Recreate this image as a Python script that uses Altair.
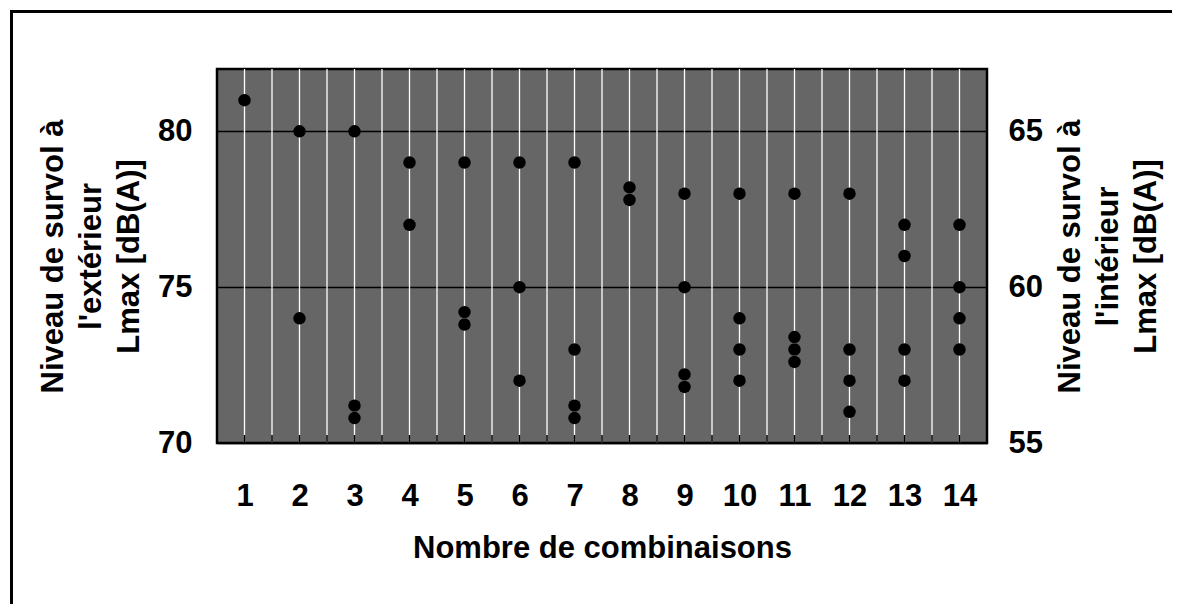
import altair as alt
import pandas as pd

# ---- data ----
combos = [1,
          2, 2,
          3, 3, 3,
          4, 4,
          5, 5, 5,
          6, 6, 6,
          7, 7, 7, 7,
          8, 8,
          9, 9, 9, 9,
          10, 10, 10, 10,
          11, 11, 11, 11,
          12, 12, 12, 12,
          13, 13, 13, 13,
          14, 14, 14, 14]
lmax_ext = [81,
            80, 74,
            80, 71.2, 70.8,
            79, 77,
            79, 74.2, 73.8,
            79, 75, 72,
            79, 73, 71.2, 70.8,
            78.2, 77.8,
            78, 75, 72.2, 71.8,
            78, 74, 73, 72,
            78, 73.4, 73.0, 72.6,
            78, 73, 72, 71,
            77, 76, 73, 72,
            77, 75, 74, 73]
x_tick_values = [1, 1.5, 2, 2.5, 3, 3.5, 4, 4.5, 5, 5.5, 6, 6.5, 7, 7.5,
                 8, 8.5, 9, 9.5, 10, 10.5, 11, 11.5, 12, 12.5, 13, 13.5, 14]
left_ticks = [70, 75, 80]
right_ticks = [55, 60, 65]
left_domain = [70, 82]
right_domain = [55, 67]
x_domain = [0.5, 14.5]

x_title = "Nombre de combinaisons"
left_title = ["Niveau de survol à", "l'extérieur", "Lmax [dB(A)]"]
right_title = ["Niveau de survol à", "l'intérieur", "Lmax [dB(A)]"]

W, H = 770, 374
FONT = "Liberation Sans"
FS = 31

points_df = pd.DataFrame({"combo": combos, "lmax": lmax_ext})
ticks_df = pd.DataFrame({"combo": x_tick_values})
right_df = pd.DataFrame({"v": right_ticks})

x_axis = alt.Axis(
    values=x_tick_values,
    format="d",
    labelExpr="datum.value % 1 == 0 ? datum.label : ''",
    labelOverlap=False,
    grid=False,
    ticks=False, domain=False,
    labelFont=FONT, labelFontSize=FS, labelFontWeight="bold", labelColor="black",
    labelPadding=38, labelFlush=False,
    title=x_title, titleFont=FONT, titleFontSize=FS, titleFontWeight="bold",
    titleColor="black", titlePadding=22,
)
x_enc = alt.X("combo:Q", scale=alt.Scale(domain=x_domain, nice=False, zero=False), axis=x_axis)

# white vertical gridlines at every half step
white_grid = alt.Chart(ticks_df).mark_rule(color="white", strokeWidth=1.3).encode(
    x=x_enc,
)

points = alt.Chart(points_df).mark_circle(color="black", opacity=1, size=155).encode(
    x=x_enc,
    y=alt.Y("lmax:Q", scale=alt.Scale(domain=left_domain, nice=False, zero=False),
            axis=alt.Axis(values=left_ticks, grid=True, gridColor="black", gridWidth=1.3,
                          gridOpacity=1, ticks=False, domain=False,
                          labelFont=FONT, labelFontSize=FS, labelFontWeight="bold",
                          labelColor="black", labelPadding=25,
                          title=left_title, titleFont=FONT, titleFontSize=FS,
                          titleFontWeight="bold", titleColor="black", titlePadding=12,
                          titleLineHeight=38)),
)

inward_ticks = alt.Chart(ticks_df).mark_rule(color="black", strokeWidth=1.5).encode(
    x=x_enc,
    y=alt.value(H - 8),
    y2=alt.value(H),
)

right_axis = alt.Chart(right_df).mark_point(opacity=0).encode(
    x=alt.value(0),
    y=alt.Y("v:Q", scale=alt.Scale(domain=right_domain, nice=False, zero=False),
            axis=alt.Axis(orient="right", values=right_ticks, grid=False, ticks=False,
                          domain=False, labelFont=FONT, labelFontSize=FS,
                          labelFontWeight="bold", labelColor="black", labelPadding=21,
                          title=right_title, titleFont=FONT, titleFontSize=FS,
                          titleFontWeight="bold", titleColor="black", titleAngle=270,
                          titleBaseline="top", titleAlign="center",
                          titleX=68, titleY=H / 2, titleLineHeight=38)),
)

border_left = alt.Chart(right_df).mark_rule(color="black", strokeWidth=3).encode(
    x=alt.value(-205.5), y=alt.value(-59), y2=alt.value(540))
border_top = alt.Chart(right_df).mark_rule(color="black", strokeWidth=3).encode(
    x=alt.value(-207), x2=alt.value(960), y=alt.value(-57.5))

chart = alt.layer(white_grid, points, inward_ticks, right_axis, border_left, border_top).resolve_scale(
    y="independent"
).properties(
    width=W, height=H,
    background="white",
    autosize=alt.AutoSizeParams(type="none"),
    padding={"left": 209, "top": 61, "right": 185, "bottom": 161},
).configure_view(
    fill="#666666", stroke="black", strokeWidth=2.5
)

chart.save("out.html", embed_options={"renderer": "svg", "actions": False})
